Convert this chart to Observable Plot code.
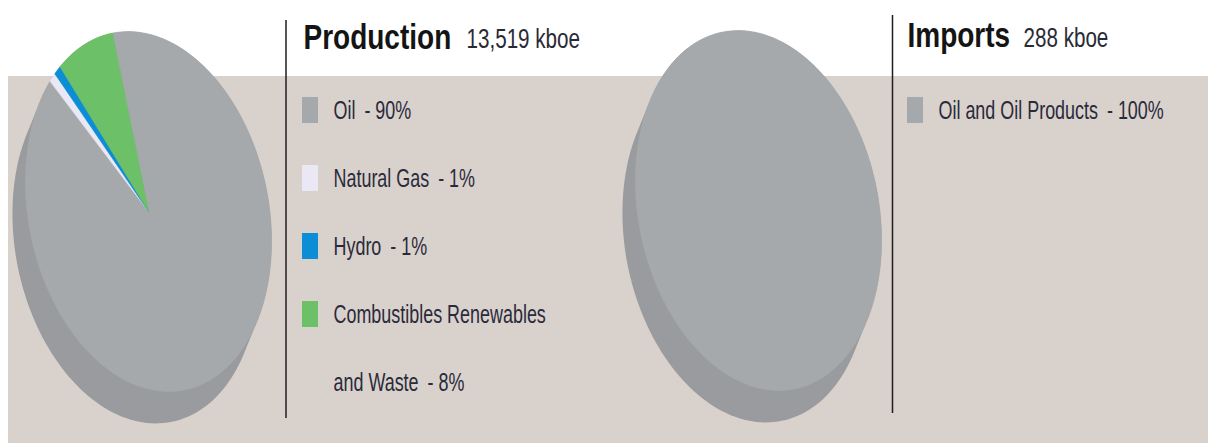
<!DOCTYPE html>
<html><head><meta charset="utf-8">
<script src="https://cdn.jsdelivr.net/npm/d3@7"></script>
<script src="https://cdn.jsdelivr.net/npm/@observablehq/plot@0.6"></script>
<style>
html,body{margin:0;padding:0;background:#fff;}
#chart svg{display:block;}
</style></head><body><div id="chart"></div>
<script>
// ---- data ----
const productionCategories = ["Oil", "Natural Gas", "Hydro", "Combustibles Renewables and Waste"];
const productionShares = [90, 1, 1, 8];
const importCategories = ["Oil and Oil Products"];
const importShares = [100];
const panelTitles = ["Production", "Imports"];
const panelTotals = ["13,519 kboe", "288 kboe"];

// ---- styles ----
const colorDomain = [...productionCategories, ...importCategories];
const colorRange = ["#a6a9ac", "#e9e8f4", "#0b8ed5", "#6cc067", "#a6a9ac"];
const FONT = '"Liberation Sans", Arial, sans-serif';

// ---- layout ----
const W = 1208, H = 443;
const A = 182, B = 120, TILT = 11.5 * Math.PI / 180, DEPTH = [-13, 32];
const LEG_Y0 = 110, LEG_STEP = 68;
const panels = [
  {title: panelTitles[0], total: panelTotals[0], cats: productionCategories, vals: productionShares,
   cx: 148, cy: 211, rule: {x: 285.5, y1: 20, y2: 418}, titleX: 303, totalX: 466, titleY: 37, totalY: 39,
   swX: 302, labX: 333, chars: 24},
  {title: panelTitles[1], total: panelTotals[1], cats: importCategories, vals: importShares,
   cx: 758, cy: 210, rule: {x: 892, y1: 15, y2: 413}, titleX: 907, totalX: 1023, titleY: 35, totalY: 38,
   swX: 907, labX: 938, chars: 34}
];

function pt(cx, cy, phi, dx = 0, dy = 0) {
  const lx = B * Math.sin(phi), ly = -A * Math.cos(phi);
  const c = Math.cos(TILT), s = Math.sin(TILT);
  return {x: cx + lx * c + ly * s + dx, y: cy - lx * s + ly * c + dy};
}
function wrap(str, max) {
  const words = str.split(" ");
  const lines = [];
  let cur = "";
  for (const w of words) {
    if (cur && (cur + " " + w).length > max) { lines.push(cur); cur = w; }
    else cur = cur ? cur + " " + w : w;
  }
  if (cur) lines.push(cur);
  return lines.join("\n");
}

const sliceRows = [], sideRows = [], swatches = [], labels = [], titles = [], totals = [], rules = [];
panels.forEach((p, pi) => {
  const hullPts = [];
  for (let a = 0; a < 360; a += 2) {
    const phi = a * Math.PI / 180;
    const q1 = pt(p.cx, p.cy, phi), q2 = pt(p.cx, p.cy, phi, DEPTH[0], DEPTH[1]);
    hullPts.push([q1.x, q1.y], [q2.x, q2.y]);
  }
  d3.polygonHull(hullPts).forEach(([x, y]) => sideRows.push({key: "side" + pi, x, y}));
  const arcs = d3.pie().sort(null).value(d => d)(p.vals);
  arcs.forEach((a, i) => {
    const key = p.title + "|" + p.cats[i];
    sliceRows.push({key, cat: p.cats[i], x: p.cx, y: p.cy});
    const n = Math.max(2, Math.ceil((a.endAngle - a.startAngle) / (Math.PI / 180)));
    for (let k = 0; k <= n; k++) {
      const q = pt(p.cx, p.cy, a.startAngle + (a.endAngle - a.startAngle) * k / n);
      sliceRows.push({key, cat: p.cats[i], x: q.x, y: q.y});
    }
  });
  let line = 0;
  p.cats.forEach((cat, i) => {
    const text = wrap(`${cat}\u2002- ${p.vals[i]}%`, p.chars);
    const nLines = text.split("\n").length;
    const y0 = LEG_Y0 + LEG_STEP * line;
    swatches.push({cat, x1: p.swX, x2: p.swX + 16, y1: y0 - 13, y2: y0 + 13});
    labels.push({text, x: p.labX, y: y0 + (nLines - 1) * LEG_STEP / 2});
    line += nLines;
  });
  titles.push({text: p.title, x: p.titleX, y: p.titleY});
  totals.push({text: p.total, x: p.totalX, y: p.totalY});
  rules.push(p.rule);
});

// font sizes and horizontal condensing factors (keyed by font size)
const LEG_F = 26, TIT_F = 35, TOT_F = 27.5;
const condenseBySize = {[LEG_F]: 0.69, [TIT_F]: 0.8, [TOT_F]: 0.75};
const band = [{x1: 8, x2: W, y1: 76, y2: H}];

const chart = Plot.plot({
  width: W, height: H, margin: 0,
  x: {domain: [0, W], range: [0, W], axis: null},
  y: {domain: [0, H], range: [0, H], axis: null},
  color: {domain: colorDomain, range: colorRange},
  style: {background: "#fff", fontFamily: FONT, overflow: "visible"},
  marks: [
    Plot.rect(band, {x1: "x1", x2: "x2", y1: "y1", y2: "y2", fill: "#d9d1cb"}),
    Plot.line(sideRows, {x: "x", y: "y", z: "key", fill: "#999b9e", stroke: "none", curve: "linear-closed"}),
    Plot.line(sliceRows, {x: "x", y: "y", z: "key", fill: "cat", stroke: "cat", strokeWidth: 0.6, curve: "linear-closed"}),
    Plot.ruleX(rules, {x: "x", y1: "y1", y2: "y2", stroke: "#1e1e1e", strokeWidth: 1.5}),
    Plot.rect(swatches, {x1: "x1", x2: "x2", y1: "y1", y2: "y2", fill: "cat"}),
    Plot.text(titles, {x: "x", y: "y", text: "text", textAnchor: "start", lineAnchor: "middle",
      fontSize: TIT_F, fontWeight: "bold", fill: "#141414"}),
    Plot.text(totals, {x: "x", y: "y", text: "text", textAnchor: "start", lineAnchor: "middle",
      fontSize: TOT_F, fill: "#2a2a36"}),
    Plot.text(labels, {x: "x", y: "y", text: "text", textAnchor: "start", lineAnchor: "middle",
      fontSize: LEG_F, lineHeight: LEG_STEP / LEG_F, dy: -13, fill: "#2a2a3c"})
  ]
});
document.getElementById("chart").appendChild(chart);

// condense the text horizontally around each text's anchor point
chart.querySelectorAll("text").forEach(el => {
  const holder = el.closest("[font-size]");
  if (!holder) return;
  const sx = condenseBySize[parseFloat(holder.getAttribute("font-size"))];
  if (!sx) return;
  const t = el.getAttribute("transform") || "";
  if (/translate/.test(t)) {
    el.setAttribute("transform", t + ` scale(${sx},1)`);
  } else {
    const x = parseFloat(el.getAttribute("x")) || 0;
    el.setAttribute("transform", `translate(${x},0) scale(${sx},1) translate(${-x},0) ` + t);
  }
});
</script>
</body></html>
